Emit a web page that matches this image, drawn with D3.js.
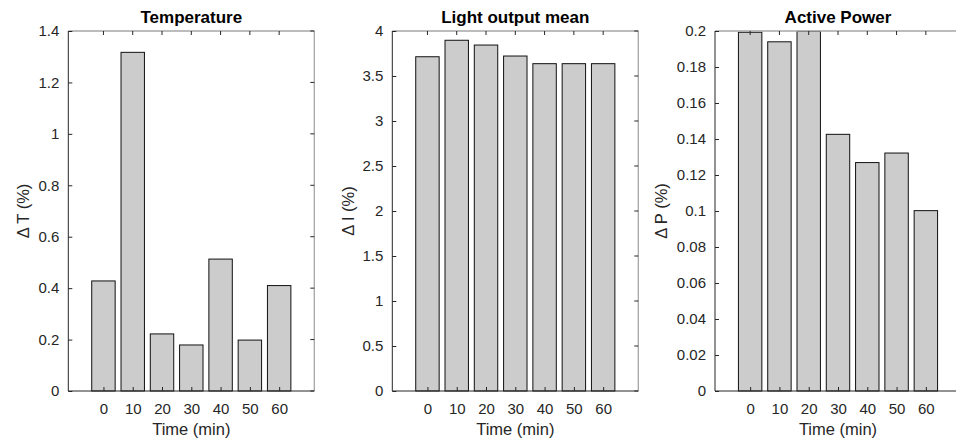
<!DOCTYPE html>
<html><head><meta charset="utf-8">
<script src="https://cdn.jsdelivr.net/npm/d3@7"></script>
<style>body{margin:0;background:#fff}svg{display:block}text{font-family:Arial,"Liberation Sans",sans-serif}</style>
</head><body><svg id="c" width="956" height="445"></svg>
<script>
const times = [0, 10, 20, 30, 40, 50, 60];
const tempValues = [0.428, 1.317, 0.222, 0.179, 0.513, 0.198, 0.41];
const lightValues = [3.714, 3.897, 3.844, 3.722, 3.637, 3.637, 3.637];
const powerValues = [0.1993, 0.194, 0.1998, 0.1426, 0.1269, 0.1322, 0.1002];
const titles = ["Temperature", "Light output mean", "Active Power"];
const yLabels = ["\u0394 T (%)", "\u0394 I (%)", "\u0394 P (%)"];
const xLabel = "Time (min)";
const tempTicks = [0, 0.2, 0.4, 0.6, 0.8, 1, 1.2, 1.4];
const lightTicks = [0, 0.5, 1, 1.5, 2, 2.5, 3, 3.5, 4];
const powerTicks = [0, 0.02, 0.04, 0.06, 0.08, 0.1, 0.12, 0.14, 0.16, 0.18, 0.2];

const panels = [
  {vals: tempValues, ticks: tempTicks, ymax: 1.4, left: 68.3, right: 314.3, ylx: 23},
  {vals: lightValues, ticks: lightTicks, ymax: 4, left: 392.3, right: 638.3, ylx: 348},
  {vals: powerValues, ticks: powerTicks, ymax: 0.2, left: 715, right: 961, ylx: 661}
];
const yTop = 31, yBottom = 391;
const svg = d3.select("#c");
const axisColor = "#262626";
const tickFont = 15, labelFont = 16.5;

panels.forEach((p, i) => {
  const x = d3.scaleLinear().domain([-12, 72]).range([p.left, p.right]);
  const y = d3.scaleLinear().domain([0, p.ymax]).range([yBottom, yTop]);
  const g = svg.append("g");
  const bw = x(8) - x(0);
  g.selectAll("rect.bar").data(p.vals).enter().append("rect")
    .attr("class", "bar")
    .attr("x", (d, k) => x(times[k]) - bw / 2)
    .attr("y", d => y(d))
    .attr("width", bw)
    .attr("height", d => yBottom - y(d))
    .attr("fill", "#cccccc")
    .attr("stroke", "#111")
    .attr("stroke-width", 1);
  g.append("line").attr("x1", p.left).attr("x2", p.right).attr("y1", yTop).attr("y2", yTop)
    .attr("stroke", "#a6a6a6").attr("stroke-width", 1.3);
  g.append("line").attr("x1", p.right).attr("x2", p.right).attr("y1", yTop).attr("y2", yBottom)
    .attr("stroke", "#a6a6a6").attr("stroke-width", 1.3);
  const yAx = g.append("g").attr("transform", `translate(${p.left},0)`)
    .call(d3.axisLeft(y).tickValues(p.ticks).tickSize(-4).tickPadding(9).tickFormat(d => String(+d.toFixed(3))));
  yAx.attr("font-size", null).attr("font-family", null);
  yAx.select(".domain").attr("stroke", axisColor).attr("d", `M0,${yTop}V${yBottom}`);
  yAx.selectAll(".tick line").attr("stroke", axisColor);
  yAx.selectAll(".tick text").attr("fill", axisColor).style("font-size", tickFont + "px");
  g.selectAll("line.rt").data(p.ticks).enter().append("line").attr("class", "rt")
    .attr("x1", p.right).attr("x2", p.right - 4).attr("y1", d => y(d)).attr("y2", d => y(d))
    .attr("stroke", axisColor);
  const xAx = g.append("g").attr("transform", `translate(0,${yBottom})`)
    .call(d3.axisBottom(x).tickValues(times).tickSize(-4).tickPadding(12).tickFormat(d3.format("d")));
  xAx.attr("font-size", null).attr("font-family", null);
  xAx.select(".domain").attr("stroke", axisColor).attr("d", `M${p.left},0H${p.right}`);
  xAx.selectAll(".tick line").attr("stroke", axisColor);
  xAx.selectAll(".tick text").attr("fill", axisColor).style("font-size", tickFont + "px");
  g.selectAll("line.tt").data(times).enter().append("line").attr("class", "tt")
    .attr("x1", d => x(d)).attr("x2", d => x(d)).attr("y1", yTop).attr("y2", yTop + 4)
    .attr("stroke", axisColor);
  g.append("text").attr("x", (p.left + p.right) / 2)
    .attr("y", 23).attr("text-anchor", "middle").attr("font-weight", "bold")
    .style("font-size", "17px").attr("fill", "#000").text(titles[i]);
  g.append("text").attr("x", (p.left + p.right) / 2).attr("y", 435)
    .attr("text-anchor", "middle").style("font-size", labelFont + "px").attr("fill", axisColor).text(xLabel);
  g.append("text").attr("transform", `translate(${p.ylx},${(yTop + yBottom) / 2}) rotate(-90)`)
    .attr("text-anchor", "middle").attr("dy", "0.35em").style("font-size", labelFont + "px").attr("fill", axisColor).text(yLabels[i]);
});
</script></body></html>
